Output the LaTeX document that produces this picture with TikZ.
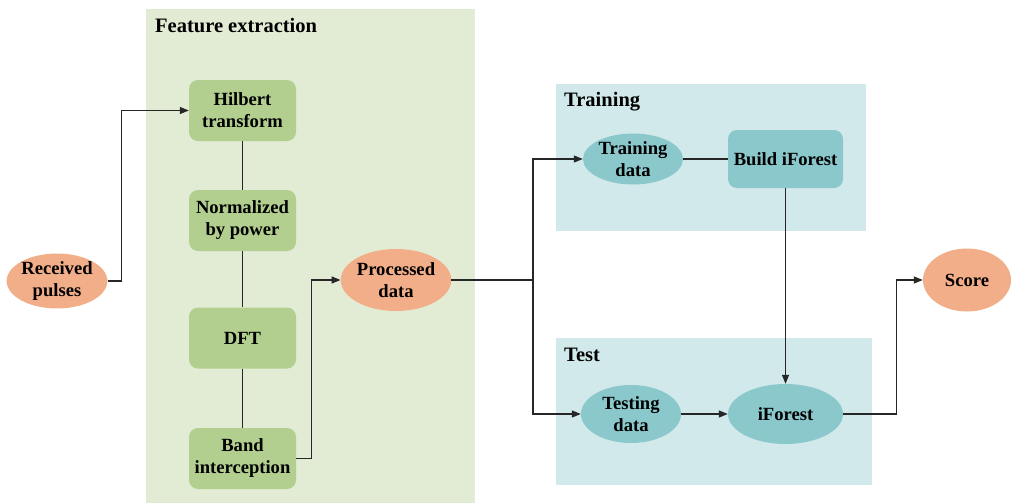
\documentclass[tikz,border=0pt]{standalone}
\usepackage{fontspec}
\setmainfont{Liberation Serif}
\usetikzlibrary{shapes.geometric,arrows.meta}
\definecolor{orng}{HTML}{F2AE88}
\definecolor{gbox}{HTML}{B2CF8F}
\definecolor{gpanel}{HTML}{E2EBD4}
\definecolor{tnode}{HTML}{8AC8CC}
\definecolor{tpanel}{HTML}{D1E9EA}
\tikzset{
  stepbox/.style={fill=gbox, rounded corners=9pt, minimum width=107pt, minimum height=61pt, inner sep=0pt, align=center},
  oval/.style={ellipse, fill=orng, inner sep=0pt, align=center},
  toval/.style={ellipse, fill=tnode, inner sep=0pt, align=center},
  tbox/.style={fill=tnode, rounded corners=9pt, minimum width=115pt, minimum height=58pt, inner sep=0pt, align=center},
  title/.style={anchor=west, inner sep=0pt, font=\fontsize{20.5}{24}\selectfont\bfseries},
  link/.style={line width=1.2pt, draw=black!85},
  arr/.style={link, -{Triangle[length=9pt,width=7pt]}}
}
\begin{document}
\begin{tikzpicture}[x=1pt,y=-1pt, font=\fontsize{18.6}{22}\selectfont\bfseries]
\useasboundingbox (0,0) rectangle (1011,503);
% panels
\fill[gpanel] (146,9) rectangle (475,503);
\fill[tpanel] (556,84) rectangle (866,231);
\fill[tpanel] (556,338) rectangle (872,485);
\node[title] (tfe) at (155,26) {Feature extraction};
\node[title] (ttr) at (564,102) {Training};
\node[title] (tte) at (564,355) {Test};
% nodes
\node[oval, minimum width=100pt, minimum height=52pt] (rp) at (57,281) {Received\\pulses};
\node[stepbox] (hil) at (242.5,110.5) {Hilbert\\transform};
\node[stepbox] (norm) at (242.5,220.5) {Normalized\\by power};
\node[stepbox] (dft) at (242.5,338) {DFT};
\node[stepbox] (band) at (242.5,458.5) {Band\\interception};
\node[oval, minimum width=106pt, minimum height=62pt] (proc) at (396,280) {Processed\\data};
\node[toval, minimum width=100pt, minimum height=51pt] (trd) at (633,159) {Training\\data};
\node[tbox] (bif) at (785.5,159) {Build iForest};
\node[toval, minimum width=100pt, minimum height=58pt] (ted) at (631,414) {Testing\\data};
\node[toval, minimum width=115pt, minimum height=60pt] (ifo) at (785.5,414) {iForest};
\node[oval, minimum width=88pt, minimum height=63pt] (score) at (967,280) {Score};
\coordinate (split) at (533,280);
% connectors
\draw[arr] (rp.east) -- ++(14,0) |- (hil.west);
\draw[link] (hil) -- (norm);
\draw[link] (norm) -- (dft);
\draw[link] (dft) -- (band);
\draw[arr] (band.east) -- ++(15,0) |- (proc.west);
\draw[link] (proc.east) -- (split);
\draw[arr] (split) |- (trd.west);
\draw[arr] (split) |- (ted.west);
\draw[link] (trd) -- (bif);
\draw[arr] (bif) -- (ifo);
\draw[arr] (ted) -- (ifo);
\draw[arr] (ifo.east) -- ++(53,0) |- (score.west);
\end{tikzpicture}
\end{document}
